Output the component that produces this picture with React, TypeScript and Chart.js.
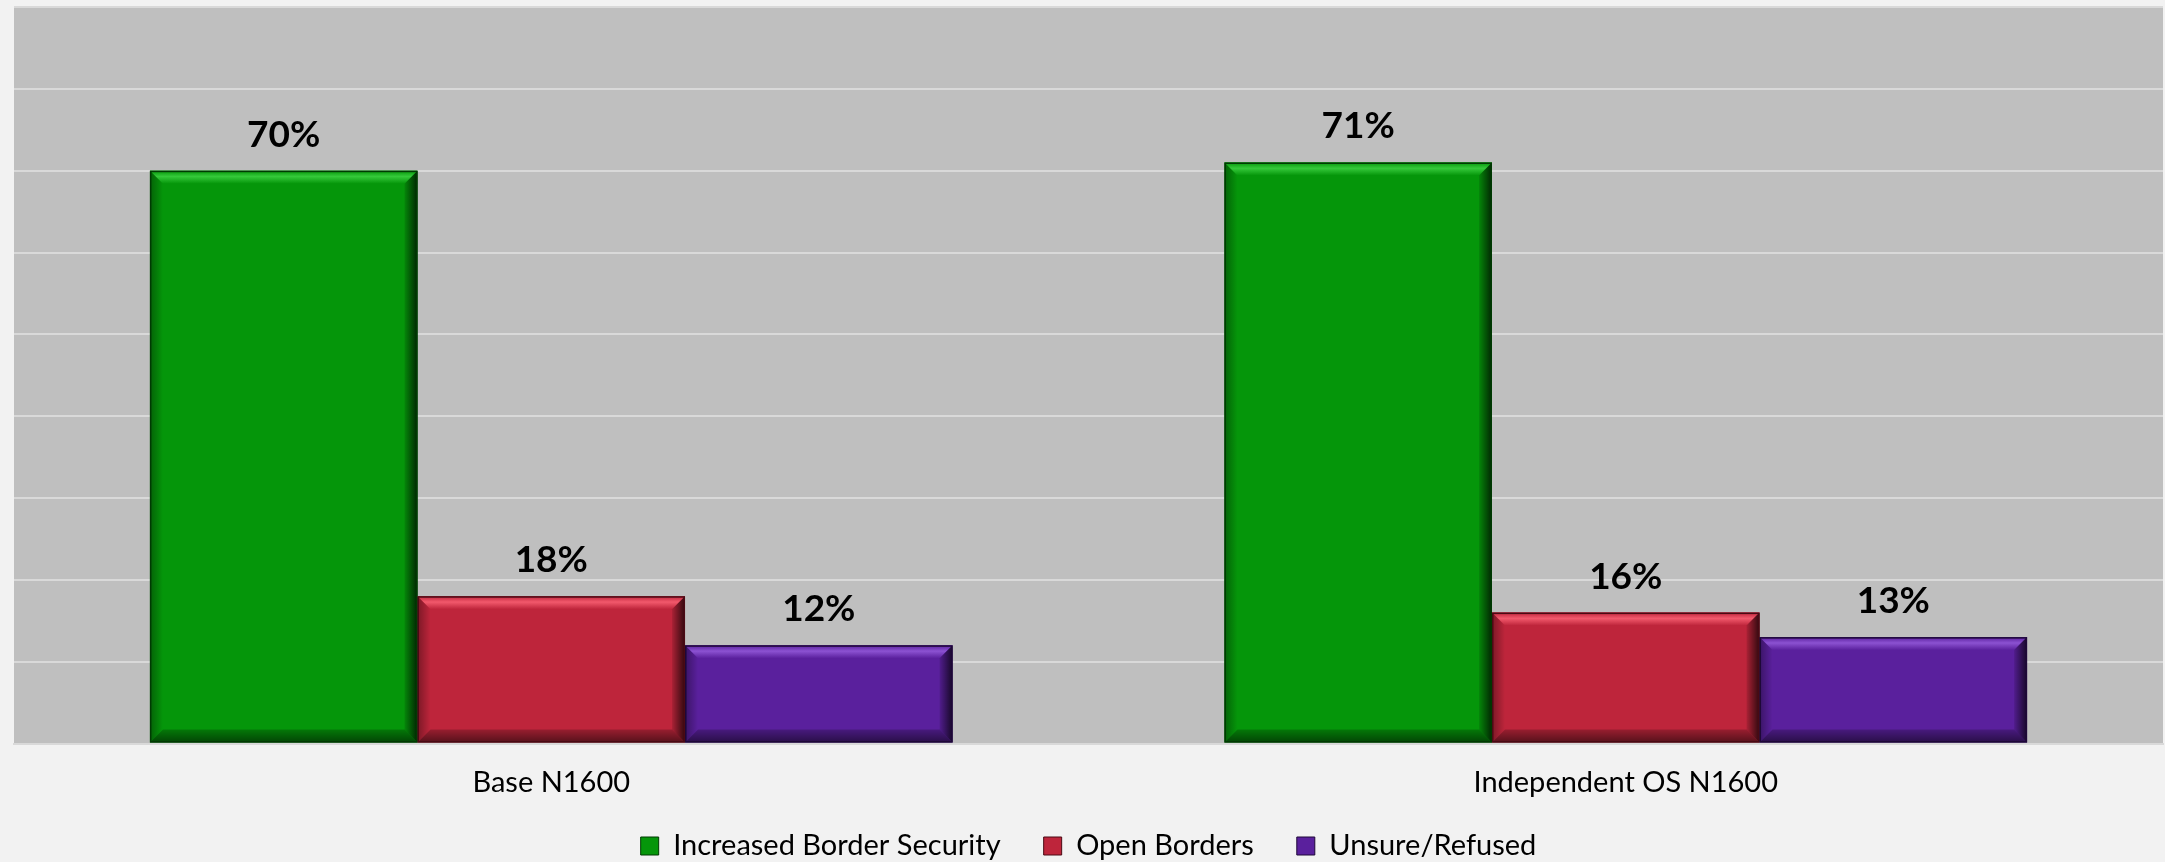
import React, { useEffect, useRef } from 'react';
import { Chart, registerables } from 'chart.js';

Chart.register(...registerables);

const categories = ['Base N1600', 'Independent OS N1600'];
const seriesNames = ['Increased Border Security', 'Open Borders', 'Unsure/Refused'];
const increasedBorderSecurity = [70, 71];
const openBorders = [18, 16];
const unsureRefused = [12, 13];
const yMin = 0;
const yMax = 90;
const yStep = 10;

const seriesColors = ['#05960A', '#BE253B', '#5A209D'];
const seriesLight = ['#35C93A', '#F2596C', '#8C52D2'];
const seriesDark = ['#013A03', '#4A0A14', '#1E0838'];

const FONT = 'Lato, "Open Sans", "DejaVu Sans", sans-serif';

const bgPlugin = {
  id: 'plotBg',
  beforeDraw(chart: any) {
    const { ctx, chartArea } = chart;
    ctx.save();
    ctx.fillStyle = '#F2F2F2';
    ctx.fillRect(0, 0, chart.width, chart.height);
    ctx.fillStyle = '#BFBFBF';
    ctx.fillRect(chartArea.left, chartArea.top, chartArea.right - chartArea.left, chartArea.bottom - chartArea.top);
    ctx.restore();
  },
};

// let x-axis labels extend below the axis box (the legend sits close underneath)
const labelRoomPlugin = {
  id: 'labelRoom',
  afterLayout(chart: any) {
    const x = chart.scales.x;
    if (x) x.bottom = x.top + 80;
  },
};

const bevelPlugin = {
  id: 'bevel',
  afterDatasetsDraw(chart: any) {
    const { ctx } = chart;
    chart.data.datasets.forEach((ds: any, di: number) => {
      const meta = chart.getDatasetMeta(di);
      meta.data.forEach((el: any) => {
        const p = el.getProps(['x', 'y', 'base', 'width'], true);
        const l = p.x - p.width / 2;
        const r = p.x + p.width / 2;
        const t = Math.min(p.y, p.base);
        const bm = Math.max(p.y, p.base);
        const b = 13;
        ctx.save();
        let g = ctx.createLinearGradient(0, t, 0, t + b);
        g.addColorStop(0, seriesColors[di]);
        g.addColorStop(0.45, seriesLight[di]);
        g.addColorStop(1, seriesColors[di]);
        ctx.fillStyle = g;
        ctx.beginPath();
        ctx.moveTo(l, t); ctx.lineTo(r, t); ctx.lineTo(r - b, t + b); ctx.lineTo(l + b, t + b); ctx.closePath();
        ctx.fill();
        g = ctx.createLinearGradient(l, 0, l + b, 0);
        g.addColorStop(0, 'rgba(0,0,0,0.35)');
        g.addColorStop(1, 'rgba(0,0,0,0.0)');
        ctx.fillStyle = g;
        ctx.beginPath();
        ctx.moveTo(l, t); ctx.lineTo(l + b, t + b); ctx.lineTo(l + b, bm - b); ctx.lineTo(l, bm); ctx.closePath();
        ctx.fill();
        g = ctx.createLinearGradient(r - b, 0, r, 0);
        g.addColorStop(0, 'rgba(0,0,0,0.1)');
        g.addColorStop(1, 'rgba(0,0,0,0.75)');
        ctx.fillStyle = g;
        ctx.beginPath();
        ctx.moveTo(r, t); ctx.lineTo(r, bm); ctx.lineTo(r - b, bm - b); ctx.lineTo(r - b, t + b); ctx.closePath();
        ctx.fill();
        g = ctx.createLinearGradient(0, bm - b, 0, bm);
        g.addColorStop(0, 'rgba(0,0,0,0.2)');
        g.addColorStop(1, 'rgba(0,0,0,0.55)');
        ctx.fillStyle = g;
        ctx.beginPath();
        ctx.moveTo(l, bm); ctx.lineTo(r, bm); ctx.lineTo(r - b, bm - b); ctx.lineTo(l + b, bm - b); ctx.closePath();
        ctx.fill();
        ctx.strokeStyle = seriesDark[di];
        ctx.lineWidth = 1.5;
        ctx.strokeRect(l + 0.75, t + 0.75, r - l - 1.5, bm - t - 1.5);
        ctx.restore();
      });
    });
  },
};

const labelPlugin = {
  id: 'valueLabels',
  afterDatasetsDraw(chart: any) {
    const { ctx } = chart;
    ctx.save();
    ctx.font = `bold 37px ${FONT}`;
    ctx.fillStyle = '#000000';
    ctx.textAlign = 'center';
    ctx.textBaseline = 'alphabetic';
    chart.data.datasets.forEach((ds: any, di: number) => {
      const meta = chart.getDatasetMeta(di);
      meta.data.forEach((el: any, i: number) => {
        const p = el.getProps(['x', 'y'], true);
        ctx.fillText(`${ds.data[i]}%`, p.x, p.y - 24);
      });
    });
    ctx.restore();
  },
};

export default function App() {
  const ref = useRef<HTMLCanvasElement | null>(null);

  useEffect(() => {
    document.body.style.margin = '0';
    document.body.style.background = '#F2F2F2';
    const canvas = ref.current;
    if (!canvas) return;
    const seriesValues = [increasedBorderSecurity, openBorders, unsureRefused];
    const chart = new Chart(canvas, {
      type: 'bar',
      data: {
        labels: categories,
        datasets: seriesNames.map((name, i) => ({
          label: name,
          data: seriesValues[i],
          backgroundColor: seriesColors[i],
          borderColor: seriesDark[i],
          borderWidth: 0,
          barPercentage: 1,
          categoryPercentage: 0.747,
        })),
      },
      options: {
        responsive: false,
        animation: false,
        devicePixelRatio: 1,
        layout: { padding: { left: 14, right: 2, top: 7, bottom: -8.5 } },
        plugins: {
          tooltip: { enabled: false },
          legend: {
            position: 'bottom',
            align: 'center',
            labels: {
              font: { family: FONT, size: 29 },
              color: '#000000',
              boxWidth: 18,
              boxHeight: 18,
              padding: 43,
              generateLabels: (chart: any) =>
                chart.data.datasets.map((ds: any, i: number) => ({
                  text: ds.label,
                  fillStyle: seriesColors[i],
                  strokeStyle: seriesDark[i],
                  lineWidth: 1,
                  datasetIndex: i,
                  hidden: false,
                  fontColor: '#000000',
                })),
            },
          },
        },
        scales: {
          x: {
            grid: { display: false },
            border: { display: true, color: '#D9D9D9', width: 2 },
            ticks: {
              font: { family: FONT, size: 29 },
              color: '#000000',
              padding: 14,
            },
            afterFit: (scale: any) => {
              scale.height = 45;
            },
          },
          y: {
            min: yMin,
            max: yMax,
            ticks: { display: false, stepSize: yStep },
            grid: { color: '#D9D9D9', lineWidth: 2, drawTicks: false },
            border: { display: false },
            afterFit: (scale: any) => {
              scale.width = 0;
            },
          },
        },
      },
      plugins: [bgPlugin, labelRoomPlugin, bevelPlugin, labelPlugin],
    });
    return () => chart.destroy();
  }, []);

  return (
    <div style={{ width: 2165, height: 862, background: '#F2F2F2' }}>
      <canvas ref={ref} width={2165} height={862} style={{ display: 'block' }} />
    </div>
  );
}
